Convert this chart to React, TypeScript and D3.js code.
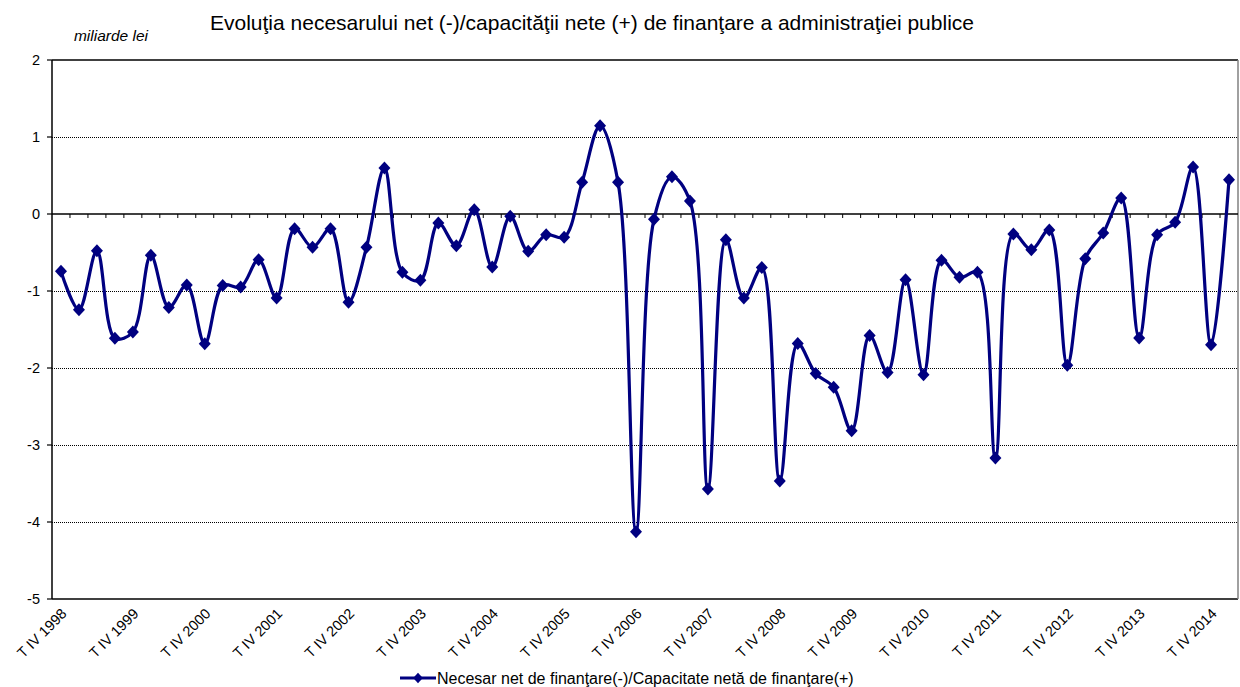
import * as React from "react"
import * as d3 from "d3"

// T IV 1998 ... T I 2015, quarterly
const values = [
  -0.745, -1.243, -0.477, -1.615, -1.533, -0.537, -1.213, -0.922,
  -1.684, -0.927, -0.948, -0.594, -1.09, -0.191, -0.433, -0.191,
  -1.145, -0.433, 0.597, -0.758, -0.862, -0.117, -0.412, 0.056,
  -0.688, -0.03, -0.485, -0.269, -0.302, 0.412, 1.146, 0.411,
  -4.127, -0.069, 0.483, 0.168, -3.571, -0.334, -1.09, -0.696,
  -3.469, -1.683, -2.073, -2.25, -2.815, -1.577, -2.058, -0.853,
  -2.087, -0.602, -0.823, -0.758, -3.169, -0.26, -0.464, -0.208,
  -1.965, -0.58, -0.247, 0.208, -1.61, -0.269, -0.108, 0.61,
  -1.697, 0.445,
]

const years = d3.range(1998, 2015)
const tickLabels = years.map((y) => `T IV ${y}`)
const yTicks = [2, 1, 0, -1, -2, -3, -4, -5]

const title =
  "Evoluţia necesarului net (-)/capacităţii nete (+) de finanţare a administraţiei publice"
const unitLabel = "miliarde lei"
const legendLabel =
  "Necesar net de finanţare(-)/Capacitate netă de finanţare(+)"

const NAVY = "#000080"
const FONT = "Liberation Sans, Arial, sans-serif"

const diamond = "M0,-6.5L6,0L0,6.5L-6,0Z"

export default function App(): React.JSX.Element {
  const width = 1240
  const height = 687
  const margin = { top: 60, right: 2, bottom: 88, left: 52 }

  const idx = values.map((_, i) => i)
  const x = d3
    .scaleBand<number>()
    .domain(idx)
    .range([margin.left, width - margin.right])
  const cx = (i: number) => (x(i) as number) + x.bandwidth() / 2

  const y = d3
    .scaleLinear()
    .domain([-5, 2])
    .range([height - margin.bottom, margin.top])

  // Excel-like smoothing
  const line = d3
    .line<number>()
    .x((_, i) => cx(i))
    .y((d) => y(d))
    .curve(d3.curveCatmullRom.alpha(0.5))

  const x0 = margin.left
  const x1 = width - margin.right
  const yTop = y(2)
  const yBot = y(-5)
  const yZero = y(0)

  return (
    <svg
      width={width}
      height={height}
      style={{ position: "absolute", left: 0, top: 0, background: "#fff" }}
      fontFamily={FONT}
    >
      <text x={592} y={30} fontSize={21} textAnchor="middle" fill="#000">
        {title}
      </text>
      <text x={111} y={41} fontSize={15.5} fontStyle="italic" textAnchor="middle">
        {unitLabel}
      </text>

      {/* gridlines */}
      {yTicks
        .filter((t) => t !== 2 && t !== -5 && t !== 0)
        .map((t) => (
          <line
            key={"g" + t}
            x1={x0}
            x2={x1}
            y1={y(t) + 0.5}
            y2={y(t) + 0.5}
            stroke="#000"
            strokeWidth={1}
            strokeDasharray="1,1"
          />
        ))}

      {/* frame */}
      <line x1={x0} x2={x1} y1={yTop} y2={yTop} stroke="#000" strokeWidth={1.5} />
      <line x1={x0} x2={x1} y1={yBot} y2={yBot} stroke="#000" strokeWidth={1.5} />
      <line x1={x1} x2={x1} y1={yTop} y2={yBot} stroke="#808080" strokeWidth={1.5} />
      <line x1={x0} x2={x0} y1={yTop} y2={yBot} stroke="#000" strokeWidth={1.5} />

      {/* y axis ticks & labels */}
      {yTicks.map((t) => (
        <g key={"y" + t}>
          <line x1={x0 - 5} x2={x0} y1={y(t)} y2={y(t)} stroke="#000" strokeWidth={1.2} />
          <text x={x0 - 12} y={y(t)} dy="0.35em" fontSize={14.5} textAnchor="end">
            {t}
          </text>
        </g>
      ))}

      {/* category axis at zero */}
      <line x1={x0} x2={x1} y1={yZero} y2={yZero} stroke="#000" strokeWidth={1.5} />
      {idx.slice(1).map((i) => (
        <line
          key={"t" + i}
          x1={x(i)}
          x2={x(i)}
          y1={yZero}
          y2={yZero + 4}
          stroke="#000"
          strokeWidth={1}
        />
      ))}

      {/* x labels */}
      {tickLabels.map((lab, k) => {
        const i = k * 4
        return (
          <text
            key={lab}
            transform={`translate(${cx(i) + 3},${yBot + 12}) rotate(-45)`}
            fontSize={14.5}
            textAnchor="end"
            dy="0.35em"
          >
            {lab}
          </text>
        )
      })}

      {/* series */}
      <path d={line(values) ?? ""} fill="none" stroke={NAVY} strokeWidth={3.2} />
      {values.map((v, i) => (
        <path key={"m" + i} d={diamond} transform={`translate(${cx(i)},${y(v)})`} fill={NAVY} />
      ))}

      {/* legend */}
      <g transform="translate(400,678)">
        <line x1={0} x2={36} y1={0} y2={0} stroke={NAVY} strokeWidth={3} />
        <path d={diamond} transform="translate(18,0) scale(0.8)" fill={NAVY} />
        <text x={37} y={0} dy="0.35em" fontSize={16}>
          {legendLabel}
        </text>
      </g>
    </svg>
  )
}
